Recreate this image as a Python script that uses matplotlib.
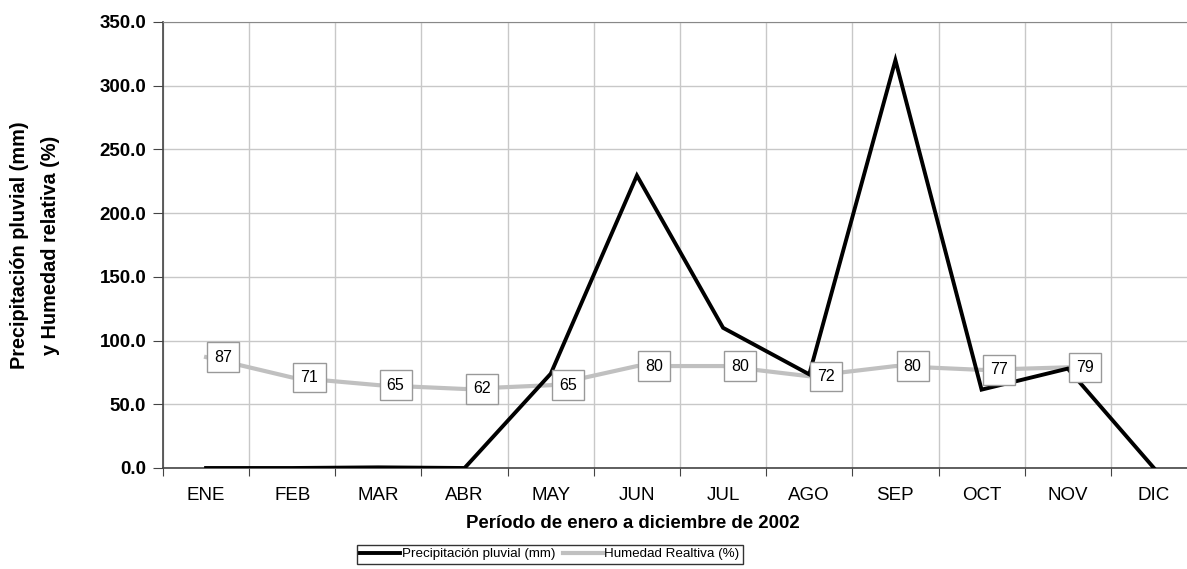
import numpy as np
import matplotlib.pyplot as plt

plt.rcParams['font.family'] = ['Liberation Sans', 'DejaVu Sans']

meses = ["ENE", "FEB", "MAR", "ABR", "MAY", "JUN", "JUL", "AGO", "SEP", "OCT", "NOV", "DIC"]
precipitacion = [0.0, 0.0, 0.5, 0.0, 74.0, 229.5, 110.0, 73.5, 320.0, 61.5, 78.0, 0.0]
humedad = [87, 71, 65, 62, 65, 80, 80, 72, 80, 77, 79, np.nan]


def graficar():
    fig = plt.figure(figsize=(11.87, 5.69), dpi=100)
    # el área del gráfico se sale un poco por la derecha, como en el original
    ax = fig.add_axes([163 / 1187, 1 - 468 / 569, (1197 - 163) / 1187, (468 - 22) / 569])

    x = np.arange(len(meses))
    ax.plot(x, precipitacion, color="black", lw=2.8, zorder=3,
            label="Precipitación pluvial (mm)", solid_joinstyle="miter")
    ax.plot(x, humedad, color="#c0c0c0", lw=3.0, zorder=2,
            label="Humedad Realtiva (%)")

    for i, v in enumerate(humedad):
        if np.isnan(v):
            continue
        ax.annotate(str(int(v)), (i, v), xytext=(6, 0), textcoords="offset points",
                    ha="left", va="center", fontsize=11.5, zorder=5,
                    bbox=dict(boxstyle="square,pad=0.45", fc="white", ec="#999999", lw=1))

    ax.set_xlim(-0.5, 11.5)
    ax.set_ylim(0, 350)
    ax.set_yticks(np.arange(0, 351, 50))
    ax.set_yticklabels([f"{t:.1f}" for t in np.arange(0, 351, 50)],
                       fontsize=13.5, fontweight="bold")

    ax.set_xticks(np.arange(-0.5, 12, 1))
    ax.set_xticklabels([])
    ax.set_xticks(x, minor=True)
    ax.set_xticklabels(meses, minor=True, fontsize=13.5)
    ax.tick_params(axis="x", which="minor", length=0, pad=14)
    ax.tick_params(axis="x", which="major", length=6, color="#444444")
    ax.tick_params(axis="y", length=7, color="#444444", pad=5)

    ax.grid(True, which="major", color="#c8c8c8", lw=1)
    ax.set_axisbelow(True)
    for lado in ["left", "bottom"]:
        ax.spines[lado].set_color("#444444")
        ax.spines[lado].set_linewidth(1.2)
    ax.spines["top"].set_color("#888888")
    ax.spines["right"].set_visible(False)

    fig.text(633 / 1187, 1 - 524 / 569, "Período de enero a diciembre de 2002",
             ha="center", va="center", fontsize=13.4, fontweight="bold")
    fig.text(35 / 1187, 1 - 245 / 569, "Precipitación pluvial (mm)\ny Humedad relativa (%)",
             ha="center", va="center", rotation=90, fontsize=14.3, fontweight="bold",
             linespacing=1.85)

    fig.legend(loc="center", bbox_to_anchor=(550 / 1187, 1 - 554 / 569), ncol=2,
               fontsize=9.6, frameon=True, fancybox=False, edgecolor="black",
               handlelength=3.0, handletextpad=0.1, columnspacing=0.6,
               borderpad=0.25, borderaxespad=0)

    fig.savefig("out.png", dpi=100)


if __name__ == "__main__":
    graficar()
